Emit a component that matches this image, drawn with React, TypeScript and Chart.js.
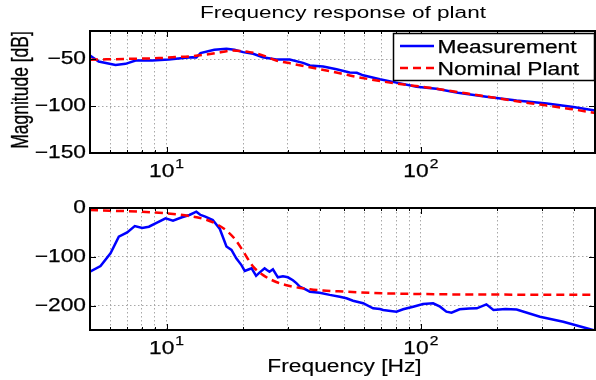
import React, { useEffect, useRef } from 'react';
import { Chart, registerables } from 'chart.js';

Chart.register(...registerables);

// ---------------- data ----------------
const titleText = 'Frequency response of plant';
const magLabel = 'Magnitude [dB]';
const phaseLabel = 'Phase [deg]';
const freqLabel = 'Frequency [Hz]';
const seriesNames = ['Measurement', 'Nominal Plant'];

const xGridTicks = [6, 7, 8, 9, 10, 20, 30, 40, 50, 60, 70, 80, 90, 100, 200, 300, 400];
const xLabelTicks = [10, 100];
const xLabelExps = ['1', '2'];
const magTicks = [-150, -100, -50];
const phaseTicks = [-200, -100, 0];

const magMeasFreq = [5.0, 5.41, 6.3, 6.9, 7.55, 8.78, 10.2, 11.9, 12.6, 13.1, 13.6, 15.4, 17.2, 18.5, 20.0, 21.9, 23.9, 27.0, 30.5, 34.4, 36.6, 41.3, 46.6, 52.5, 56.0, 59.3, 69.0, 80.2, 96.2, 115, 140, 181, 238, 313, 398, 484];
const magMeas = [-46, -52.5, -56.1, -55, -51.4, -51.4, -50.3, -48.6, -47.9, -48.3, -43.5, -40, -38.9, -40, -42.5, -44.3, -47.9, -50.3, -50.3, -54, -56.8, -57.8, -60.8, -64.3, -64.6, -67.2, -71.5, -75, -79.3, -81.5, -85.8, -90.1, -94.1, -97.3, -100.9, -104.6];

const magNomFreq = [5.0, 7.11, 9.33, 10.8, 12.2, 14.0, 15.7, 18.2, 21.2, 23.6, 27.0, 31.4, 36.6, 42.5, 48.0, 52.5, 63.0, 75.5, 90.5, 108.5, 140, 171, 224, 294, 386, 484];
const magNom = [-50.6, -49.7, -48.9, -47.8, -47.1, -45.4, -43.5, -40.8, -42.5, -45.4, -51.4, -55, -58.6, -62, -65, -67.4, -71.5, -75, -77.9, -80.4, -85.1, -88.7, -93.8, -98.4, -103, -107.3];

const phMeasFreq = [5.0, 5.5, 6.02, 6.49, 7.0, 7.5, 8.02, 8.52, 9.05, 9.91, 10.6, 11.5, 12.3, 13.1, 13.6, 14.2, 15.2, 16.2, 17.2, 18.0, 18.8, 19.7, 20.3, 21.0, 21.6, 22.5, 23.2, 24.3, 24.8, 25.4, 26.2, 27.4, 28.7, 30.0, 31.4, 32.4, 33.4, 35.5, 36.6, 40.0, 43.8, 48.0, 51.0, 54.1, 59.3, 64.9, 69.0, 71.1, 76.0, 80.2, 85.2, 93.3, 102, 111.8, 119, 126, 132, 142, 155, 166, 181, 193, 215, 238, 294, 363, 449, 484];
const phMeas = [-130.5, -118.8, -92.9, -58.7, -49.9, -36.9, -41, -38.3, -31.4, -21.2, -26, -19, -14.3, -7.5, -14.3, -17.8, -24.6, -43, -79, -86, -103, -117, -129, -126, -123.6, -139, -132.5, -123.6, -127, -130.5, -125.7, -142, -140, -142, -148, -154, -161, -168, -171.5, -173.5, -178, -181.7, -185, -190, -195, -205.5, -207, -209, -211, -212.5, -207.6, -202.2, -196.7, -195.3, -202.2, -212.5, -214.5, -207.6, -206, -205.5, -197.4, -209, -207, -208, -222.7, -233, -246.5, -251];

const phNomFreq = [5.0, 5.97, 7.83, 10, 12.3, 14.1, 15.7, 17.4, 18.7, 19.8, 20.8, 21.9, 23.9, 27.0, 30.5, 36.6, 42.5, 47.3, 71.1, 126, 245, 484];
const phNom = [-4, -5.5, -7.5, -11, -16.4, -23, -32.8, -48.5, -65.6, -84.7, -103, -120, -137, -151.6, -159.8, -166.6, -169.4, -170.8, -174.8, -176.9, -177.6, -178];

// ---------------- helpers ----------------
const FONT = '"Liberation Sans", Arial, Helvetica, sans-serif';
const BLUE = '#0000ff';
const RED = '#ff0000';

function txt(ctx: CanvasRenderingContext2D, text: string, x: number, y: number, o: any = {}) {
  const { size = 17, sx = 1.3, align = 'center', baseline = 'alphabetic', rotate = false, weight = 0.25 } = o;
  ctx.save();
  ctx.translate(x, y);
  ctx.scale(sx, 1);
  if (rotate) ctx.rotate(-Math.PI / 2);
  ctx.font = `${size}px ${FONT}`;
  ctx.fillStyle = '#000';
  ctx.strokeStyle = '#000';
  ctx.setLineDash([]);
  ctx.textAlign = align;
  ctx.textBaseline = baseline;
  ctx.fillText(text, 0, 0);
  if (weight > 0) {
    ctx.lineWidth = weight;
    ctx.strokeText(text, 0, 0);
  }
  ctx.restore();
}

function powerLabel(ctx: CanvasRenderingContext2D, exp: string, cx: number, baseY: number) {
  const size = 17.5, sx = 1.3, supSize = 12;
  ctx.save();
  ctx.font = `${size}px ${FONT}`;
  const w1 = ctx.measureText('10').width * sx;
  ctx.font = `${supSize}px ${FONT}`;
  const w2 = ctx.measureText(exp).width * sx;
  ctx.restore();
  const start = cx - (w1 + w2 + 1) / 2;
  txt(ctx, '10', start, baseY, { size, sx, align: 'left' });
  txt(ctx, exp, start + w1 + 1, baseY - 8.5, { size: supSize, sx, align: 'left' });
}

function pts(xs: number[], ys: number[]) {
  return xs.map((x, i) => ({ x, y: ys[i] }));
}

function makeDecor(kind: 'mag' | 'phase', yTicks: number[]) {
  return {
    id: 'decor_' + kind,
    afterDraw(chart: any) {
      const ctx: CanvasRenderingContext2D = chart.ctx;
      const a = chart.chartArea;
      const xs = chart.scales.x;
      const ys = chart.scales.y;
      ctx.save();
      ctx.strokeStyle = '#000';
      ctx.lineWidth = 1;
      ctx.setLineDash([]);
      const seg = (x1: number, y1: number, x2: number, y2: number) => {
        ctx.beginPath(); ctx.moveTo(x1, y1); ctx.lineTo(x2, y2); ctx.stroke();
      };
      for (const v of xGridTicks) {
        const px = Math.round(xs.getPixelForValue(v)) + 0.5;
        const len = xLabelTicks.includes(v) ? 6 : 3;
        seg(px, a.top, px, a.top + len);
        seg(px, a.bottom, px, a.bottom - len);
      }
      for (const v of yTicks) {
        const py = Math.round(ys.getPixelForValue(v)) + 0.5;
        seg(a.left, py, a.left + 6, py);
        seg(a.right, py, a.right - 6, py);
      }
      ctx.lineWidth = 2;
      ctx.strokeRect(a.left, a.top, a.right - a.left, a.bottom - a.top);

      // y tick labels
      for (const v of yTicks) {
        const py = ys.getPixelForValue(v);
        const s = v < 0 ? '\u2212' + Math.abs(v) : String(v);
        txt(ctx, s, a.left - 4, py + 0.5, { align: 'right', baseline: 'middle', size: 17.5 });
      }
      // x tick labels
      xLabelTicks.forEach((v, i) => {
        powerLabel(ctx, xLabelExps[i], xs.getPixelForValue(v), a.bottom + 23.5);
      });

      if (kind === 'mag') {
        txt(ctx, titleText, 343, 17.5, { size: 16, sx: 1.41, weight: 0 });
        txt(ctx, magLabel, 28, 90, { rotate: true, size: 17.5, sx: 1.4 });
        // legend
        const lx = 393, ly = 33, lw = 201, lh = 47;
        ctx.fillStyle = '#fff';
        ctx.fillRect(lx, ly, lw, lh);
        ctx.lineWidth = 1.5;
        ctx.strokeStyle = '#000';
        ctx.strokeRect(lx + 0.5, ly + 0.5, lw, lh);
        ctx.lineWidth = 2.5;
        ctx.strokeStyle = BLUE;
        seg(400, 46, 434, 46);
        ctx.strokeStyle = RED;
        ctx.setLineDash([8, 5]);
        seg(400, 68, 434, 68);
        ctx.setLineDash([]);
        txt(ctx, seriesNames[0], 437.5, 53, { align: 'left', size: 17.5 });
        txt(ctx, seriesNames[1], 437.5, 74.5, { align: 'left', size: 17.5 });
      } else {
        txt(ctx, phaseLabel, 28, 269, { rotate: true, size: 17.5, sx: 1.4 });
        txt(ctx, freqLabel, 344.5, 181.5, { size: 17.5, sx: 1.3, weight: 0.15 });
      }
      ctx.restore();
    },
  };
}

function buildConfig(kind: 'mag' | 'phase') {
  const isMag = kind === 'mag';
  const yTicks = isMag ? magTicks : phaseTicks;
  const gridCommon = { color: '#a8a8a8', drawTicks: false, lineWidth: 1 };
  const borderCommon = { display: false, dash: [1.5, 2.5] };
  return {
    type: 'line' as const,
    data: {
      datasets: [
        {
          label: seriesNames[0],
          data: isMag ? pts(magMeasFreq, magMeas) : pts(phMeasFreq, phMeas),
          borderColor: BLUE,
          borderWidth: 2.5,
          pointRadius: 0,
          tension: 0,
          fill: false,
          order: 1,
        },
        {
          label: seriesNames[1],
          data: isMag ? pts(magNomFreq, magNom) : pts(phNomFreq, phNom),
          borderColor: RED,
          borderWidth: 2.5,
          borderDash: [8, 5],
          pointRadius: 0,
          cubicInterpolationMode: 'monotone',
          fill: false,
          order: 0,
        },
      ],
    },
    options: {
      animation: false,
      responsive: false,
      maintainAspectRatio: false,
      layout: { padding: { left: 0, right: 1, top: isMag ? 31 : 18, bottom: 0 } },
      plugins: {
        legend: { display: false },
        title: { display: false },
        tooltip: { enabled: false },
      },
      scales: {
        x: {
          type: 'logarithmic',
          min: 5,
          max: 484,
          afterBuildTicks: (s: any) => {
            s.ticks = xGridTicks.map((v) => ({ value: v }));
          },
          afterFit: (s: any) => {
            s.height = isMag ? 37 : 50;
          },
          ticks: { display: false },
          grid: gridCommon,
          border: borderCommon,
        },
        y: {
          type: 'linear',
          min: isMag ? -150 : -250,
          max: isMag ? -20 : 0,
          afterBuildTicks: (s: any) => {
            s.ticks = yTicks.map((v) => ({ value: v }));
          },
          afterFit: (s: any) => {
            s.width = 90;
          },
          ticks: { display: false },
          grid: gridCommon,
          border: borderCommon,
        },
      },
    },
    plugins: [makeDecor(kind, yTicks)],
  };
}

function Plot({ kind, top }: { kind: 'mag' | 'phase'; top: number }) {
  const ref = useRef<HTMLCanvasElement | null>(null);
  useEffect(() => {
    if (!ref.current) return;
    const chart = new Chart(ref.current, buildConfig(kind) as any);
    return () => chart.destroy();
  }, [kind]);
  return (
    <canvas
      ref={ref}
      width={596}
      height={190}
      style={{ position: 'absolute', left: 0, top, width: 596, height: 190, display: 'block' }}
    />
  );
}

export default function App() {
  return (
    <div style={{ position: 'absolute', left: 0, top: 0, width: 596, height: 380, background: '#fff', overflow: 'hidden' }}>
      <Plot kind="mag" top={0} />
      <Plot kind="phase" top={190} />
    </div>
  );
}
